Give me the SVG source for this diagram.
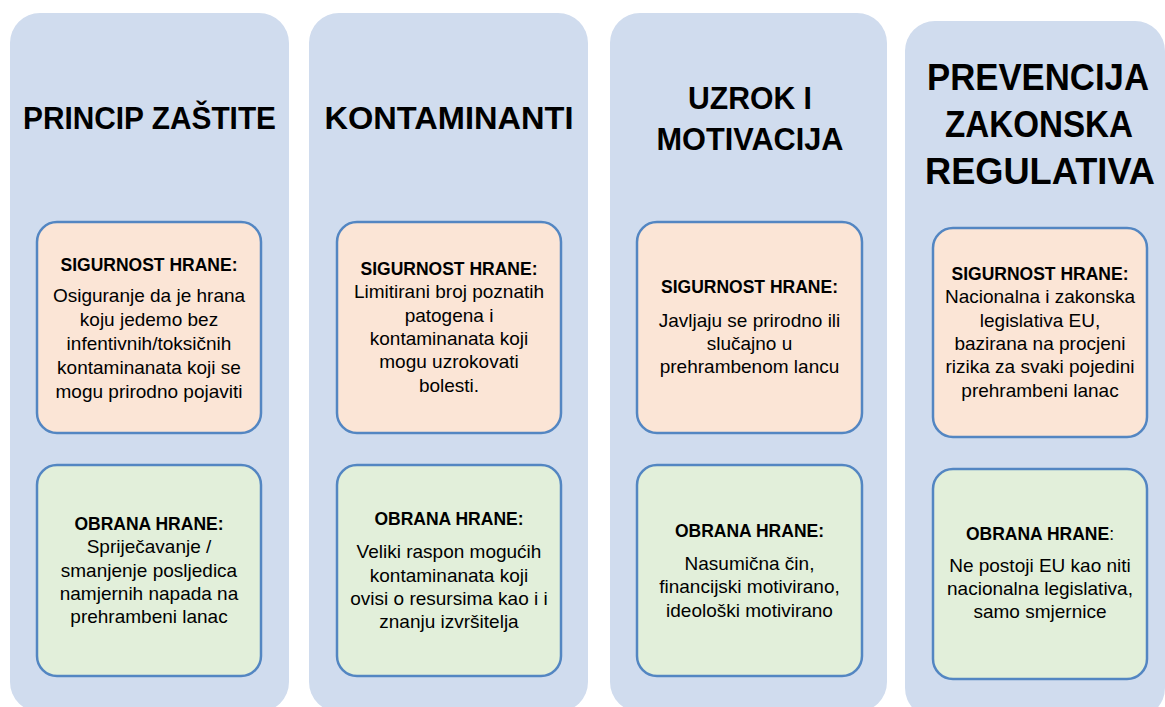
<svg xmlns="http://www.w3.org/2000/svg" width="1165" height="707" viewBox="0 0 1165 707">
<style>
.col{fill:#D0DCEE;}
.pink{fill:#FBE5D6;stroke:#5386C2;stroke-width:2.5;}
.green{fill:#E2EFDA;stroke:#5386C2;stroke-width:2.5;}
.hd{font-family:"Liberation Sans",Arial,sans-serif;font-weight:bold;font-size:32px;fill:#000;text-anchor:middle;}
.hd4{font-family:"Liberation Sans",Arial,sans-serif;font-weight:bold;font-size:37px;fill:#000;text-anchor:middle;}
.bh{font-family:"Liberation Sans",Arial,sans-serif;font-weight:bold;font-size:17.5px;fill:#000;text-anchor:middle;}
.bt{font-family:"Liberation Sans",Arial,sans-serif;font-size:19px;fill:#000;text-anchor:middle;}
</style>
<rect width="1165" height="707" fill="#FFFFFF"/>
<g id="col1">
<rect class="col" x="10" y="13" width="279" height="699" rx="30" ry="30"/>
<text class="hd" x="149.5" y="129" textLength="253" lengthAdjust="spacingAndGlyphs">PRINCIP ZAŠTITE</text>
</g>
<g id="col2">
<rect class="col" x="309" y="13" width="279" height="699" rx="30" ry="30"/>
<text class="hd" x="449" y="129" textLength="249" lengthAdjust="spacingAndGlyphs">KONTAMINANTI</text>
</g>
<g id="col3">
<rect class="col" x="610" y="13" width="277" height="699" rx="30" ry="30"/>
<text class="hd" x="750" y="109" textLength="124" lengthAdjust="spacingAndGlyphs">UZROK I</text>
<text class="hd" x="750" y="150" textLength="187" lengthAdjust="spacingAndGlyphs">MOTIVACIJA</text>
</g>
<g id="col4">
<rect class="col" x="905" y="21" width="260" height="697" rx="30" ry="30"/>
<text class="hd4" x="1038" y="90" textLength="222" lengthAdjust="spacingAndGlyphs">PREVENCIJA</text>
<text class="hd4" x="1039" y="137" textLength="188" lengthAdjust="spacingAndGlyphs">ZAKONSKA</text>
<text class="hd4" x="1040" y="184" textLength="230" lengthAdjust="spacingAndGlyphs">REGULATIVA</text>
</g>
<g id="connectors"></g>
<g id="c1-safety">
<rect class="pink" x="37" y="222" width="224" height="211" rx="20" ry="20"/>
<text class="bh" x="149" y="271">SIGURNOST HRANE:</text>
<text class="bt" x="149" y="302">Osiguranje da je hrana</text>
<text class="bt" x="149" y="326">koju jedemo bez</text>
<text class="bt" x="149" y="350">infentivnih/toksičnih</text>
<text class="bt" x="149" y="374">kontaminanata koji se</text>
<text class="bt" x="149" y="398">mogu prirodno pojaviti</text>
</g>
<g id="c1-defense">
<rect class="green" x="37" y="465" width="224" height="211" rx="20" ry="20"/>
<text class="bh" x="149" y="530">OBRANA HRANE:</text>
<text class="bt" x="149" y="553">Spriječavanje /</text>
<text class="bt" x="149" y="577">smanjenje posljedica</text>
<text class="bt" x="149" y="600">namjernih napada na</text>
<text class="bt" x="149" y="623">prehrambeni lanac</text>
</g>
<g id="c2-safety">
<rect class="pink" x="337" y="222" width="224" height="211" rx="20" ry="20"/>
<text class="bh" x="449" y="275">SIGURNOST HRANE:</text>
<text class="bt" x="449" y="298">Limitirani broj poznatih</text>
<text class="bt" x="449" y="322">patogena i</text>
<text class="bt" x="449" y="345">kontaminanata koji</text>
<text class="bt" x="449" y="368">mogu uzrokovati</text>
<text class="bt" x="449" y="392">bolesti.</text>
</g>
<g id="c2-defense">
<rect class="green" x="337" y="465" width="224" height="211" rx="20" ry="20"/>
<text class="bh" x="449" y="525">OBRANA HRANE:</text>
<text class="bt" x="449" y="558">Veliki raspon mogućih</text>
<text class="bt" x="449" y="582">kontaminanata koji</text>
<text class="bt" x="449" y="605">ovisi o resursima kao i i</text>
<text class="bt" x="449" y="628">znanju izvršitelja</text>
</g>
<g id="c3-safety">
<rect class="pink" x="637" y="222" width="225" height="211" rx="20" ry="20"/>
<text class="bh" x="749.5" y="293">SIGURNOST HRANE:</text>
<text class="bt" x="749.5" y="327">Javljaju se prirodno ili</text>
<text class="bt" x="749.5" y="350">slučajno u</text>
<text class="bt" x="749.5" y="373">prehrambenom lancu</text>
</g>
<g id="c3-defense">
<rect class="green" x="637" y="465" width="225" height="211" rx="20" ry="20"/>
<text class="bh" x="749.5" y="537">OBRANA HRANE:</text>
<text class="bt" x="749.5" y="570">Nasumična čin,</text>
<text class="bt" x="749.5" y="593">financijski motivirano,</text>
<text class="bt" x="749.5" y="617">ideološki motivirano</text>
</g>
<g id="c4-safety">
<rect class="pink" x="933" y="228" width="214" height="209" rx="20" ry="20"/>
<text class="bh" x="1040" y="280">SIGURNOST HRANE:</text>
<text class="bt" x="1040" y="303">Nacionalna i zakonska</text>
<text class="bt" x="1040" y="327">legislativa EU,</text>
<text class="bt" x="1040" y="350">bazirana na procjeni</text>
<text class="bt" x="1040" y="373">rizika za svaki pojedini</text>
<text class="bt" x="1040" y="397">prehrambeni lanac</text>
</g>
<g id="c4-defense">
<rect class="green" x="933" y="469" width="214" height="210" rx="20" ry="20"/>
<text class="bh" x="1040" y="540">OBRANA HRANE<tspan font-weight="normal">:</tspan></text>
<text class="bt" x="1040" y="572">Ne postoji EU kao niti</text>
<text class="bt" x="1040" y="595">nacionalna legislativa,</text>
<text class="bt" x="1040" y="618">samo smjernice</text>
</g>
</svg>
